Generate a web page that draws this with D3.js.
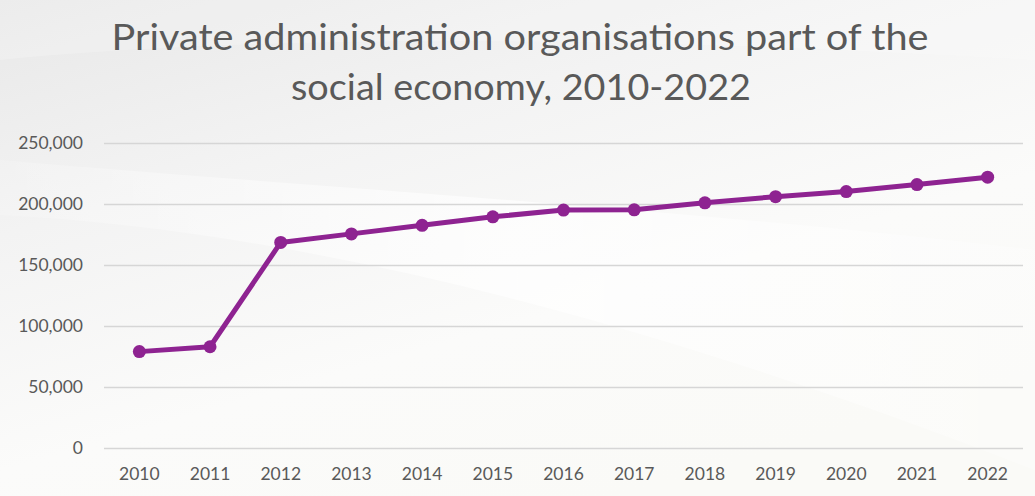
<!DOCTYPE html>
<html>
<head>
<meta charset="utf-8">
<script src="https://cdn.jsdelivr.net/npm/d3@7"></script>
<style>
  html, body { margin: 0; padding: 0; background: #f6f6f4; }
  svg { display: block; }
</style>
</head>
<body>
<div id="chart"></div>
<script>
// Private administration organisations in the social economy, by year
const years = ["2010", "2011", "2012", "2013", "2014", "2015", "2016",
               "2017", "2018", "2019", "2020", "2021", "2022"];
const organisations = [79000, 83000, 168500, 175500, 182500, 189500, 195000,
                       195200, 201000, 206000, 210200, 215900, 222000];
const yTicks = [0, 50000, 100000, 150000, 200000, 250000];
const titleLines = ["Private administration organisations part of the",
                    "social economy, 2010-2022"];

const W = 1035, H = 496;
const margin = { top: 143, right: 12, bottom: 48, left: 104 };

const svg = d3.select("#chart").append("svg")
  .attr("width", W).attr("height", H);

// soft slide-style backdrop
const defs = svg.append("defs");
const bg = defs.append("linearGradient").attr("id", "bg")
  .attr("x1", "0").attr("y1", "0").attr("x2", "0.6").attr("y2", "1");
bg.append("stop").attr("offset", "0").attr("stop-color", "#e8e8e8");
bg.append("stop").attr("offset", "0.35").attr("stop-color", "#f3f3f3");
bg.append("stop").attr("offset", "0.7").attr("stop-color", "#fbfbfa");
bg.append("stop").attr("offset", "1").attr("stop-color", "#fafaf7");
svg.append("rect").attr("width", W).attr("height", H).attr("fill", "url(#bg)");

const sweep = defs.append("linearGradient").attr("id", "sweep")
  .attr("x1", "0").attr("y1", "0").attr("x2", "1").attr("y2", "0");
sweep.append("stop").attr("offset", "0").attr("stop-color", "#ffffff").attr("stop-opacity", 0.15);
sweep.append("stop").attr("offset", "0.5").attr("stop-color", "#ffffff").attr("stop-opacity", 0.7);
sweep.append("stop").attr("offset", "1").attr("stop-color", "#ffffff").attr("stop-opacity", 0.25);
svg.append("path")
  .attr("d", `M0,215 C300,230 650,320 1035,470 L1035,250 C700,210 350,190 0,160 Z`)
  .attr("fill", "url(#sweep)");
svg.append("path")
  .attr("d", `M0,0 L1035,0 L1035,60 C700,40 300,30 0,60 Z`)
  .attr("fill", "#ffffff").attr("opacity", 0.2);

const innerW = W - margin.left - margin.right;

const x = d3.scaleBand().domain(years).range([margin.left, margin.left + innerW]);
const y = d3.scaleLinear().domain([0, 250000]).range([margin.top + 61 * 5, margin.top]);

const fontFamily = "Lato, 'Open Sans', sans-serif";

// horizontal gridlines
svg.append("g")
  .attr("transform", `translate(${margin.left},0)`)
  .call(d3.axisLeft(y).tickValues(yTicks).tickSize(-innerW).tickFormat(""))
  .call(g => g.select(".domain").remove())
  .call(g => g.selectAll(".tick line").attr("stroke", "#d6d6d6").attr("stroke-width", 1.6));

// y axis labels
svg.append("g")
  .attr("transform", `translate(${margin.left - 21},0)`)
  .call(d3.axisLeft(y).tickValues(yTicks).tickSize(0).tickPadding(0)
    .tickFormat(d3.format(",")))
  .call(g => g.select(".domain").remove())
  .call(g => g.selectAll("text")
    .attr("fill", "#595959").attr("font-family", fontFamily).attr("font-size", 17.5));

// x axis labels
svg.append("g")
  .attr("transform", `translate(0,${y(0)})`)
  .call(d3.axisBottom(x).tickSize(0).tickPadding(20))
  .call(g => g.select(".domain").remove())
  .call(g => g.selectAll("text")
    .attr("fill", "#595959").attr("font-family", fontFamily).attr("font-size", 17.5));

// series line and markers
const purple = "#8e2391";
const pts = years.map((yr, i) => ({ yr, v: organisations[i] }));
const line = d3.line().x(d => x(d.yr) + x.bandwidth() / 2).y(d => y(d.v));
svg.append("path").datum(pts)
  .attr("d", line).attr("fill", "none")
  .attr("stroke", purple).attr("stroke-width", 5)
  .attr("stroke-linejoin", "round").attr("stroke-linecap", "round");
svg.append("g").selectAll("circle").data(pts).join("circle")
  .attr("cx", d => x(d.yr) + x.bandwidth() / 2)
  .attr("cy", d => y(d.v))
  .attr("r", 6.5)
  .attr("fill", purple);

// title
const title = svg.append("g").attr("font-family", fontFamily)
  .attr("fill", "#595959").attr("text-anchor", "middle");
const titleLengths = [817, 460];
const titleX = [520, 521];
const titleBase = [50, 100];
titleLines.forEach((t, i) => {
  title.append("text")
    .attr("x", titleX[i]).attr("y", titleBase[i])
    .attr("font-size", 36)
    .attr("textLength", titleLengths[i])
    .attr("lengthAdjust", "spacingAndGlyphs")
    .text(t);
});
</script>
</body>
</html>
